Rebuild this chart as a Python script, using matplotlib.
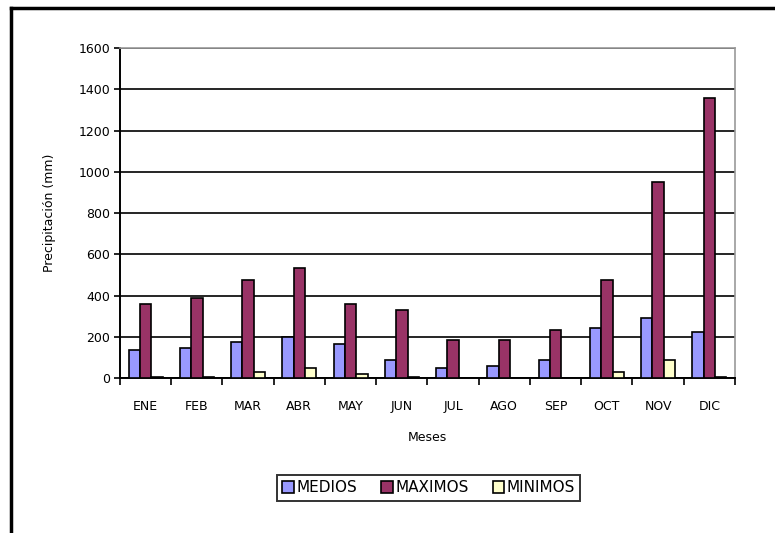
import numpy as np
import matplotlib.pyplot as plt
from matplotlib.lines import Line2D

meses = ['ENE', 'FEB', 'MAR', 'ABR', 'MAY', 'JUN', 'JUL', 'AGO', 'SEP', 'OCT', 'NOV', 'DIC']
medios = [136, 145, 175, 200, 165, 87, 48, 58, 87, 242, 289, 223]
maximos = [359, 388, 475, 533, 359, 330, 184, 184, 233, 475, 950, 1360]
minimos = [5, 5, 29, 48, 19, 5, 0, 0, 0, 29, 87, 5]

plt.rcParams['font.family'] = 'DejaVu Sans'

fig = plt.figure(figsize=(7.75, 5.33), dpi=100)
ax = fig.add_axes([0.1548, 0.2908, 0.7935, 0.619])

x = np.arange(len(meses))
w = 0.222
ax.bar(x - w, medios, w, color='#9999FF', edgecolor='black', linewidth=1.2, label='MEDIOS', zorder=3)
ax.bar(x, maximos, w, color='#993366', edgecolor='black', linewidth=1.2, label='MAXIMOS', zorder=3)
ax.bar(x + w, minimos, w, color='#FFFFCC', edgecolor='black', linewidth=1.2, label='MINIMOS', zorder=3)

ax.set_xlim(-0.5, len(meses) - 0.5)
ax.set_ylim(0, 1600)
ax.set_yticks(range(0, 1601, 200))
ax.yaxis.grid(True, color='black', linewidth=1.2, zorder=0)
ax.set_xticks(x)
ax.set_xticklabels(meses, fontsize=9)
ax.set_xticks(np.arange(-0.5, len(meses)), minor=True)
ax.tick_params(axis='x', which='major', length=0, pad=16)
ax.tick_params(axis='x', which='minor', length=5, width=1.2, direction='out')
ax.tick_params(axis='y', length=4, width=1.2, labelsize=9, pad=3)

for s in ['top', 'right']:
    ax.spines[s].set_color('#999999')
    ax.spines[s].set_linewidth(1.2)
for s in ['left', 'bottom']:
    ax.spines[s].set_linewidth(1.4)

ax.set_xlabel('Meses', fontsize=9, labelpad=13)
ax.set_ylabel('Precipitación (mm)', fontsize=9, labelpad=16)

leg = ax.legend(loc='center', bbox_to_anchor=(0.502, -0.333), ncol=3, fontsize=11,
                frameon=True, fancybox=False, edgecolor='black', handlelength=0.75,
                handleheight=0.75, handletextpad=0.15, columnspacing=1.6,
                borderpad=0.35, borderaxespad=0)
leg.get_frame().set_linewidth(1.4)

# border of the chart area
fig.add_artist(Line2D([11 / 775, 1.0], [1 - 8 / 533] * 2, color='black', linewidth=2.5))
fig.add_artist(Line2D([11 / 775] * 2, [0, 1 - 8 / 533], color='black', linewidth=2.5))

fig.savefig('out.png', dpi=100)
